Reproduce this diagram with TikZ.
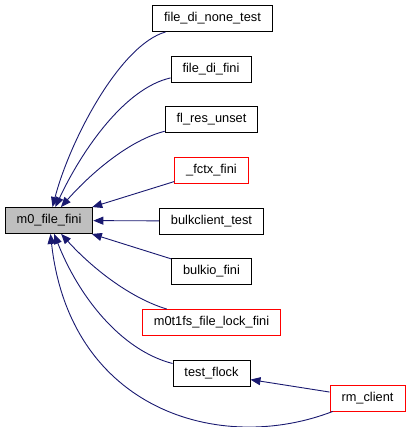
\documentclass[tikz,border=0pt]{standalone}
\usepackage{fontspec}
\setmainfont{Liberation Sans}
\usetikzlibrary{arrows.meta}
\definecolor{edgeblue}{RGB}{25,25,112}
\definecolor{nodered}{RGB}{255,0,0}
\definecolor{focusgray}{RGB}{191,191,191}
\begin{document}
\begin{tikzpicture}
  [x=1pt,y=-1pt
  ,fn/.style={draw=black,line width=0.9pt,minimum height=26pt,inner xsep=11.5pt,inner ysep=0pt,font=\fontsize{12.8}{15}\selectfont}
  ,undoc/.style={fn,draw=nodered}
  ,focus/.style={fn,fill=focusgray}
  ,calls/.style={draw=edgeblue,line width=0.9pt,-{Triangle[length=10pt,width=8pt]}}
  ]

  \useasboundingbox (0,0) rectangle (411,427);

  % function being called
  \node[focus] (fini) at (49,220.5) {m0\_file\_fini};

  % callers
  \node[fn]    (nonetest)  at (212.5,18.5)  {file\_di\_none\_test};
  \node[fn]    (difini)    at (211,69)    {file\_di\_fini};
  \node[fn]    (resunset)  at (211.5,119.5) {fl\_res\_unset};
  \node[undoc] (fctxfini)  at (211.5,170)   {\_fctx\_fini};
  \node[fn]    (bulktest)  at (211.5,221)   {bulkclient\_test};
  \node[fn]    (bulkfini)  at (211.5,271.5) {bulkio\_fini};
  \node[undoc] (lockfini)  at (211.5,322.5) {m0t1fs\_file\_lock\_fini};
  \node[fn]    (testflock) at (211.5,373.5) {test\_flock};
  \node[undoc] (rmclient)  at (367.5,398)   {rm\_client};

  % call edges
  \draw[calls] (nonetest) .. controls (120,45) and (70,140) .. (fini);
  \draw[calls] (difini) .. controls (125,88) and (82,150) .. (fini);
  \draw[calls] (resunset) .. controls (130,140) and (92,172) .. (fini);
  \draw[calls] (fctxfini) -- (fini);
  \draw[calls] (bulktest) -- (fini);
  \draw[calls] (bulkfini) -- (fini);
  \draw[calls] (lockfini) .. controls (130,298) and (92,268) .. (fini);
  \draw[calls] (testflock) .. controls (120,350) and (78,295) .. (fini);
  \draw[calls] (rmclient) .. controls (220,455) and (70,410) .. (fini);
  \draw[calls] (rmclient) -- (testflock);

\end{tikzpicture}
\end{document}
